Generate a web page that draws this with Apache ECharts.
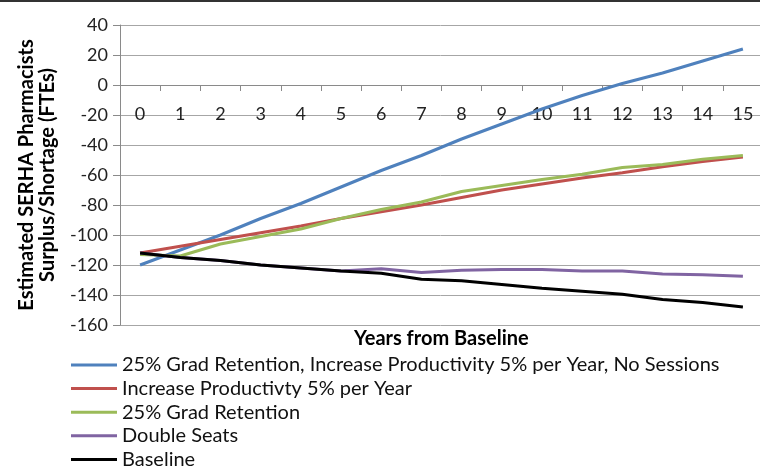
<!DOCTYPE html>
<html>
<head>
<meta charset="utf-8">
<script src="https://cdn.jsdelivr.net/npm/echarts@6/dist/echarts.min.js"></script>
<style>
    html, body { margin: 0; padding: 0; background: #fff; }
    #chart { width: 760px; height: 467px; }
</style>
</head>
<body>
<div id="chart"></div>
<script>
var years = ['0','1','2','3','4','5','6','7','8','9','10','11','12','13','14','15'];

var gradProdNoSessions = [-120, -110, -100, -89, -79, -68, -57, -47, -36, -26, -16, -7, 1, 8, 16, 24];
var increaseProd = [-112, -107.5, -103, -98.5, -94, -89, -84.5, -80, -75, -70, -66, -62, -58.5, -54.5, -51, -48];
var gradRetention = [-113, -114, -106, -101, -96, -89, -83, -78, -71, -67, -63, -59.5, -55, -53, -49.5, -47];
var doubleSeats = [-112, -115, -117, -120, -122, -124, -122.5, -125, -123.5, -123, -123, -124, -124, -126, -126.5, -127.5];
var baseline = [-112, -115, -117, -120, -122, -124, -125.5, -129.5, -130.5, -133, -135.5, -137.5, -139.5, -143, -145, -148];

var seriesNames = [
    '25% Grad Retention, Increase Productivity 5% per Year, No Sessions',
    'Increase Productivty 5% per Year',
    '25% Grad Retention',
    'Double Seats',
    'Baseline'
];
var seriesColors = ['#4f81bd', '#c0504d', '#9bbb59', '#8064a2', '#000000'];
var seriesData = [gradProdNoSessions, increaseProd, gradRetention, doubleSeats, baseline];

var font = 'Lato, "Liberation Sans", sans-serif';

var myChart = echarts.init(document.getElementById('chart'));

var series = seriesNames.map(function(name, i){
    return {
        name: name,
        type: 'line',
        data: seriesData[i],
        symbol: 'none',
        lineStyle: { width: 3, color: seriesColors[i] },
        itemStyle: { color: seriesColors[i] }
    };
});

myChart.setOption({
    animation: false,
    textStyle: { fontFamily: font },
    grid: {
        left: 120,
        right: -3,
        top: 25,
        bottom: 142,
        containLabel: false,
        outerBoundsMode: 'none'
    },
    legend: {
        type: 'plain',
        orient: 'vertical',
        left: 71,
        top: 355,
        height: 130,
        padding: 0,
        icon: 'rect',
        itemWidth: 46,
        itemHeight: 3,
        itemGap: 3.6,
        data: seriesNames,
        textStyle: { fontFamily: font, fontSize: 20, color: '#111', lineHeight: 20 }
    },
    xAxis: {
        type: 'category',
        data: years,
        boundaryGap: true,
        position: 'bottom',
        offset: -240,
        axisLine: { onZero: false, lineStyle: { color: '#8a8a8a', width: 1 } },
        axisTick: { show: true, length: 6, lineStyle: { color: '#8a8a8a' } },
        axisLabel: { fontFamily: font, fontSize: 18, color: '#222', margin: 20 },
        splitLine: { show: false }
    },
    yAxis: {
        type: 'value',
        min: -160,
        max: 40,
        interval: 20,
        name: 'Estimated SERHA Pharmacists\nSurplus/Shortage (FTEs)',
        nameLocation: 'middle',
        nameGap: 62,
        nameTextStyle: { fontFamily: font, fontSize: 20, fontWeight: 'bold', color: '#000', lineHeight: 21 },
        axisLine: { show: true, lineStyle: { color: '#8a8a8a', width: 1 } },
        axisTick: { show: true, length: 7, lineStyle: { color: '#8a8a8a' } },
        axisLabel: { fontFamily: font, fontSize: 18, color: '#222', margin: 12 },
        splitLine: { show: true, lineStyle: { color: '#a6a6a6', width: 1 } }
    },
    graphic: [{
        type: 'rect',
        shape: { x: 0, y: 0, width: 760, height: 2 },
        style: { fill: '#333' }
    }, {
        // x axis title sits under the plot, the axis itself runs along zero
        type: 'text',
        left: 354,
        top: 329,
        style: { text: 'Years from Baseline', font: 'bold 20px ' + font, fill: '#000' }
    }],
    series: series
});
</script>
</body>
</html>
